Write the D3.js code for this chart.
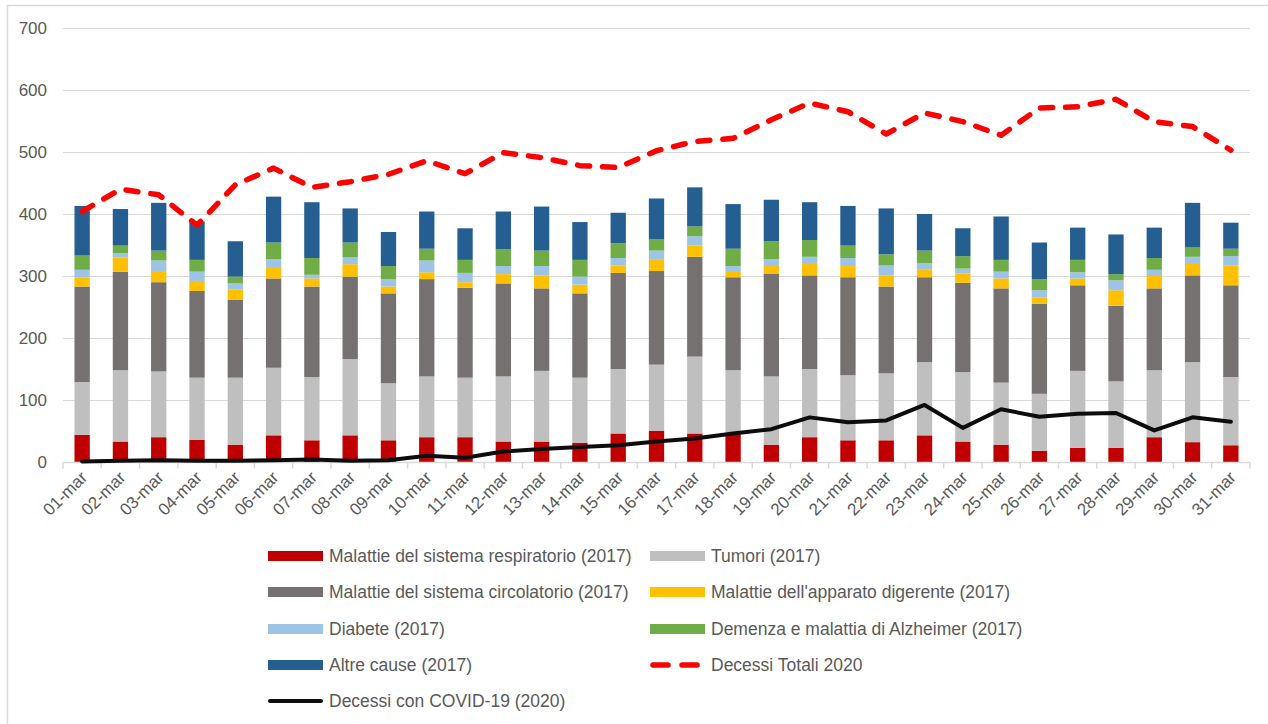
<!DOCTYPE html>
<html lang="it">
<head>
<meta charset="UTF-8">
<title>Decessi marzo</title>
<script src="https://cdn.jsdelivr.net/npm/d3@7"></script>
<style>
  body { margin: 0; background: #fff; }
  text { font-family: "Liberation Sans", Arial, sans-serif; fill: #595959; }
</style>
</head>
<body>
<script>
// dati
var giorni = ["01-mar","02-mar","03-mar","04-mar","05-mar","06-mar","07-mar","08-mar","09-mar","10-mar",
  "11-mar","12-mar","13-mar","14-mar","15-mar","16-mar","17-mar","18-mar","19-mar","20-mar",
  "21-mar","22-mar","23-mar","24-mar","25-mar","26-mar","27-mar","28-mar","29-mar","30-mar","31-mar"];

var respiratorio = [44,33,40,36,28,43,35,43,35,40,40,33,33,31,46,50,46,45,28,40,35,35,43,33,28,18,23,23,40,32,27];
var tumori = [85,115,106,100,108,109,102,123,92,98,96,105,114,105,104,107,124,103,110,110,105,108,118,112,100,92,124,107,108,129,110];
var circolatorio = [154,159,144,140,126,144,146,133,145,157,145,150,133,136,155,151,161,150,166,151,158,140,137,144,152,145,138,122,132,140,148];
var digerente = [15,23,18,16,16,17,13,20,11,11,9,15,21,14,12,18,18,10,12,20,18,18,12,15,16,10,11,25,20,20,32];
var diabete = [12,7,17,15,10,14,6,11,12,19,15,13,15,13,12,15,15,8,11,10,13,16,11,8,11,12,10,16,10,10,15];
var demenza = [23,12,16,19,11,27,27,24,21,19,21,27,25,27,24,18,16,28,29,27,20,18,20,20,19,18,20,10,19,15,12];
var altre = [80,59,77,62,57,74,90,55,55,60,51,61,71,61,49,66,63,72,67,61,64,74,59,45,70,59,52,64,49,72,42];

var totali2020 = [404,440,431,382,447,474,443,452,464,486,465,499,491,478,475,502,517,522,552,579,565,529,563,549,527,571,573,585,549,541,503];
var covid2020 = [1,2,3,2,2,3,4,2,3,10,7,17,21,24,27,33,38,46,53,72,64,67,92,55,85,73,78,79,51,72,65];

var yTicks = [0,100,200,300,400,500,600,700];

var serie = [
  { key: "resp", nome: "Malattie del sistema respiratorio (2017)", valori: respiratorio, colore: "#C00000" },
  { key: "tum", nome: "Tumori (2017)", valori: tumori, colore: "#BFBFBF" },
  { key: "circ", nome: "Malattie del sistema circolatorio (2017)", valori: circolatorio, colore: "#767171" },
  { key: "dig", nome: "Malattie dell'apparato digerente (2017)", valori: digerente, colore: "#FFC000" },
  { key: "diab", nome: "Diabete (2017)", valori: diabete, colore: "#9DC3E6" },
  { key: "dem", nome: "Demenza e malattia di Alzheimer (2017)", valori: demenza, colore: "#70AD47" },
  { key: "altre", nome: "Altre cause (2017)", valori: altre, colore: "#255E91" }
];

var W = 1268, H = 724;
var svg = d3.select("body").append("svg").attr("width", W).attr("height", H);

svg.append("rect").attr("width", W).attr("height", H).attr("fill", "#fff");
// cornice
svg.append("rect")
  .attr("x", 7.5).attr("y", 5.5).attr("width", 1400).attr("height", 900)
  .attr("fill", "none").attr("stroke", "#d9d9d9").attr("stroke-width", 1.5);

var x = d3.scaleBand().domain(giorni).range([63, 1250]).paddingInner(0.6).paddingOuter(0.3);
var y = d3.scaleLinear().domain([0, 700]).range([462, 28]);

// griglia
svg.append("g").selectAll("line").data(yTicks.slice(1)).enter().append("line")
  .attr("x1", 63).attr("x2", 1250)
  .attr("y1", function (d) { return Math.round(y(d)) + 0.5; })
  .attr("y2", function (d) { return Math.round(y(d)) + 0.5; })
  .attr("stroke", "#d9d9d9").attr("stroke-width", 1);

// asse y
var yAxis = svg.append("g").attr("transform", "translate(63,0)")
  .call(d3.axisLeft(y).tickValues(yTicks).tickSize(0).tickPadding(16));
yAxis.select(".domain").remove();
yAxis.selectAll("text").attr("font-size", 17).attr("fill", "#595959")
  .attr("font-family", "Liberation Sans, Arial, sans-serif");

// barre impilate
var tabella = giorni.map(function (g, i) {
  var r = { giorno: g };
  serie.forEach(function (s) { r[s.key] = s.valori[i]; });
  return r;
});
var stack = d3.stack().keys(serie.map(function (s) { return s.key; }))(tabella);

svg.append("g").selectAll("g").data(stack).enter().append("g")
  .attr("fill", function (d, i) { return serie[i].colore; })
  .selectAll("rect").data(function (d) { return d; }).enter().append("rect")
  .attr("x", function (d) { return x(d.data.giorno); })
  .attr("width", x.bandwidth())
  .attr("y", function (d) { return y(d[1]); })
  .attr("height", function (d) { return y(d[0]) - y(d[1]); });

// asse x
var xAxis = svg.append("g").attr("transform", "translate(0," + (y(0) + 0.5) + ")");
xAxis.append("line").attr("x1", 63).attr("x2", 1250).attr("stroke", "#d9d9d9").attr("stroke-width", 1.5);
var bordi = giorni.map(function (g) { return x(g) - x.step() * x.paddingInner() / 2; });
bordi.push(1250);
xAxis.selectAll(".tick").data(bordi).enter().append("line")
  .attr("x1", function (d) { return d; }).attr("x2", function (d) { return d; })
  .attr("y1", 0).attr("y2", 6).attr("stroke", "#d9d9d9").attr("stroke-width", 1.5);
xAxis.selectAll("text").data(giorni).enter().append("text")
  .attr("text-anchor", "end")
  .attr("font-size", 17)
  .attr("transform", function (d) {
    return "translate(" + (x(d) + x.bandwidth() / 2 + 6) + ",16) rotate(-45)";
  })
  .text(function (d) { return d; });

// linee 2020
var cx = function (i) { return x(giorni[i]) + x.bandwidth() / 2; };
var linea = d3.line().x(function (d, i) { return cx(i); }).y(function (d) { return y(d); });

svg.append("path").datum(totali2020)
  .attr("d", linea).attr("fill", "none")
  .attr("stroke", "#FF0000").attr("stroke-width", 5.5)
  .attr("stroke-dasharray", "12,13").attr("stroke-linecap", "round").attr("stroke-linejoin", "round");

svg.append("path").datum(covid2020)
  .attr("d", linea).attr("fill", "none")
  .attr("stroke", "#0d0d0d").attr("stroke-width", 4)
  .attr("stroke-linecap", "round").attr("stroke-linejoin", "round");

// legenda
var voci = serie.map(function (s) { return { nome: s.nome, colore: s.colore, tipo: "barra" }; });
voci.push({ nome: "Decessi Totali 2020", colore: "#FF0000", tipo: "tratteggio" });
voci.push({ nome: "Decessi con COVID-19 (2020)", colore: "#0d0d0d", tipo: "linea" });

var colX = [268, 650], righeY = [556, 592, 629, 665, 701];
var leg = svg.append("g").selectAll("g").data(voci).enter().append("g")
  .attr("transform", function (d, i) { return "translate(" + colX[i % 2] + "," + righeY[Math.floor(i / 2)] + ")"; });

leg.each(function (d) {
  var g = d3.select(this);
  if (d.tipo === "barra") {
    g.append("rect").attr("x", 0).attr("y", -5).attr("width", 55).attr("height", 10).attr("fill", d.colore);
  } else if (d.tipo === "tratteggio") {
    g.append("line").attr("x1", 3).attr("x2", 52).attr("y1", 0).attr("y2", 0)
      .attr("stroke", d.colore).attr("stroke-width", 5.5)
      .attr("stroke-dasharray", "15,14").attr("stroke-linecap", "round");
  } else {
    g.append("line").attr("x1", 2).attr("x2", 53).attr("y1", 0).attr("y2", 0)
      .attr("stroke", d.colore).attr("stroke-width", 4).attr("stroke-linecap", "round");
  }
  g.append("text").attr("x", 61).attr("y", 0).attr("dy", "0.35em")
    .attr("font-size", 17.5).text(d.nome);
});
</script>
</body>
</html>
